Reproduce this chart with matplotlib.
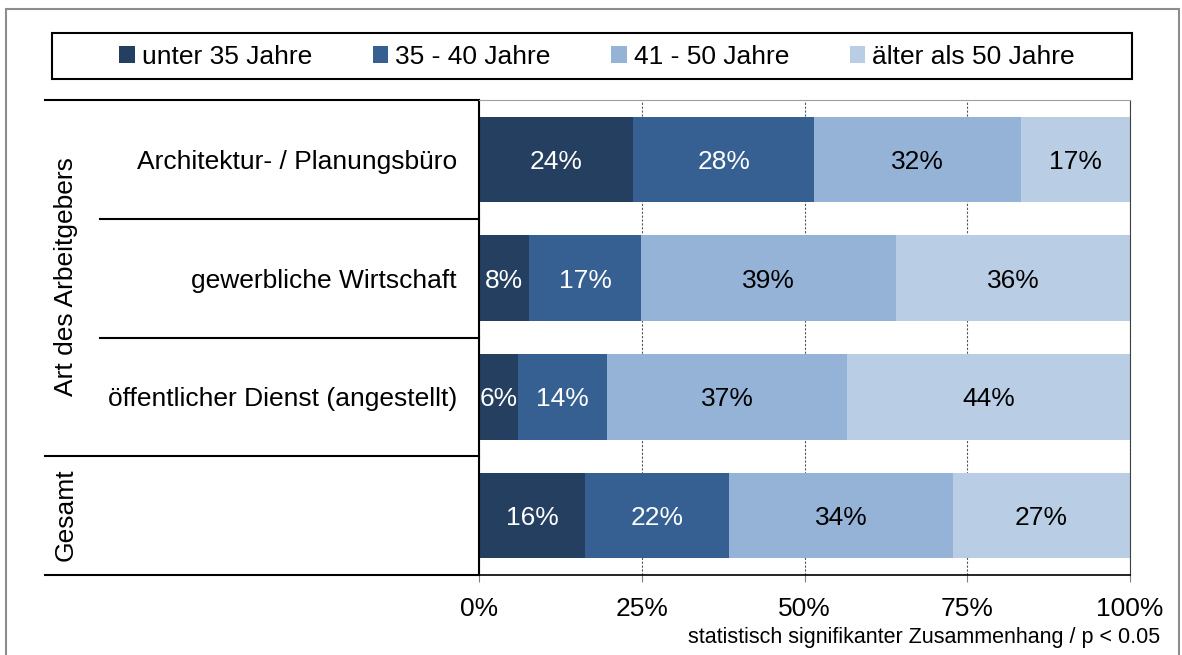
import matplotlib
matplotlib.use("Agg")
import matplotlib.pyplot as plt
from matplotlib.patches import Rectangle
from matplotlib.transforms import blended_transform_factory

plt.rcParams['font.family'] = ['Liberation Sans', 'DejaVu Sans']

categories = ["Architektur- / Planungsbüro", "gewerbliche Wirtschaft",
              "öffentlicher Dienst (angestellt)", "Gesamt"]
series = ["unter 35 Jahre", "35 - 40 Jahre", "41 - 50 Jahre", "älter als 50 Jahre"]
unter_35 = [23.7, 7.7, 6.0, 16.3]
j35_40 = [27.8, 17.2, 13.7, 22.1]
j41_50 = [31.7, 39.2, 36.8, 34.4]
ueber_50 = [16.8, 35.9, 43.6, 27.2]
colors = ["#253F60", "#376092", "#95B3D7", "#B9CDE5"]
text_colors = ["white", "white", "black", "black"]
group_label = "Art des Arbeitgebers"
total_label = "Gesamt"
note = "statistisch signifikanter Zusammenhang / p < 0.05"
xticks = [0, 25, 50, 75, 100]

W, H = 1182, 655
fig = plt.figure(figsize=(W / 100, H / 100), dpi=100)
ax = fig.add_axes([479 / W, 1 - 575 / H, (1130 - 479) / W, (575 - 100) / H])

fs = 19
y = list(range(len(categories)))
left = [0] * len(categories)
handles = []
for vals, col, tcol, name in zip([unter_35, j35_40, j41_50, ueber_50], colors, text_colors, series):
    bars = ax.barh(y, vals, left=left, height=0.72, color=col, label=name, zorder=2)
    handles.append(bars)
    for b, v in zip(bars, vals):
        ax.text(b.get_x() + b.get_width() / 2, b.get_y() + b.get_height() / 2,
                f"{round(v):.0f}%", ha='center', va='center_baseline', color=tcol,
                fontsize=fs, zorder=3)
    left = [a + b for a, b in zip(left, vals)]

ax.set_xlim(0, 100)
ax.set_ylim(3.5, -0.5)
ax.set_xticks(xticks)
ax.set_xticklabels([f"{t}%" for t in xticks], fontsize=fs)
ax.tick_params(axis='x', length=5, color='#808080', pad=11)
ax.set_yticks(y)
ax.set_yticklabels(categories[:3] + [""], fontsize=fs)
ax.tick_params(axis='y', length=0, pad=16)

ax.set_axisbelow(True)
ax.xaxis.grid(True, linestyle=(0, (2, 1.5)), color='#555555', linewidth=0.8)
ax.spines['top'].set_color('#a0a0a0')
ax.spines['right'].set_color('#404040')
ax.spines['left'].set_color('black')
ax.spines['left'].set_linewidth(1.5)
ax.spines['bottom'].set_color('black')
ax.spines['bottom'].set_linewidth(1.2)

# separator lines on the left category area
tr = blended_transform_factory(fig.transFigure, ax.transData)
x_ax = 479 / W
for yy, x0 in [(-0.5, 45 / W), (0.5, 100 / W), (1.5, 100 / W), (2.5, 45 / W), (3.5, 45 / W)]:
    ax.plot([x0, x_ax], [yy, yy], color='black', linewidth=1.5, transform=tr, clip_on=False)

fig.text(66 / W, 1 - 277 / H, group_label, rotation=90, ha='center', va='center', fontsize=fs)
fig.text(66 / W, 1 - 515 / H, total_label, rotation=90, ha='center', va='center', fontsize=fs)

# legend with its own frame
fig.legend(handles=handles, labels=series, loc='center', bbox_to_anchor=(597 / W, 1 - 57 / H),
           ncol=4, frameon=False, fontsize=fs, handlelength=0.6, handleheight=0.6,
           handletextpad=0.25, columnspacing=2.3)
fig.patches.append(Rectangle((52 / W, 1 - 79 / H), (1132 - 52) / W, 46 / H, fill=False,
                             edgecolor='black', linewidth=1.5, transform=fig.transFigure))

fig.text(1160 / W, 1 - 637 / H, note, ha='right', va='center', fontsize=15.5)

# outer border
fig.patches.append(Rectangle((6 / W, -0.05), (1179 - 6) / W, 1 - 9 / H + 0.05, fill=False,
                             edgecolor='#8c8c8c', linewidth=1.5, transform=fig.transFigure))

fig.savefig("out.png", dpi=100)
